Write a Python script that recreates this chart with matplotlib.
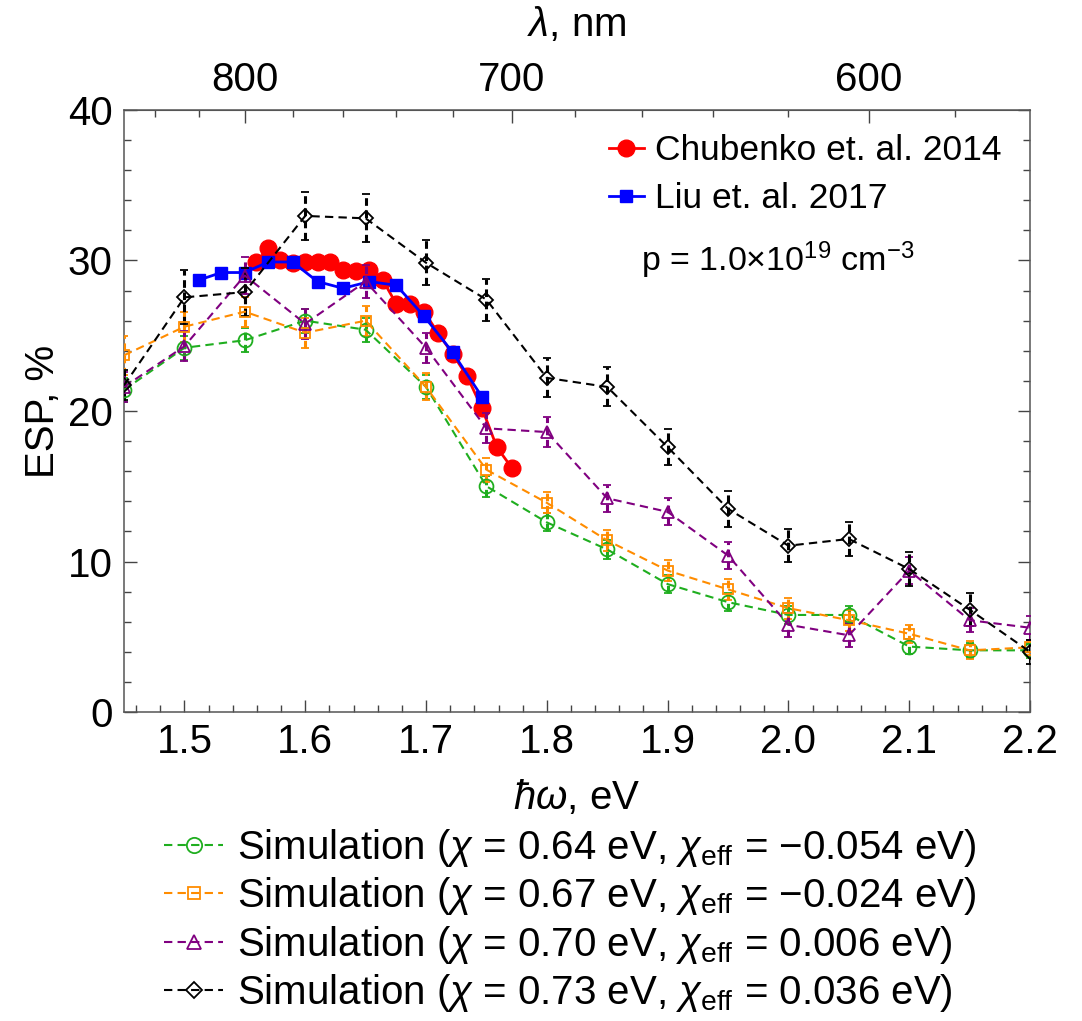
import numpy as np
import matplotlib.pyplot as plt
from matplotlib.lines import Line2D
from matplotlib.ticker import MultipleLocator, FixedLocator

plt.rcParams['font.family'] = ['Liberation Sans', 'DejaVu Sans']
plt.rcParams['mathtext.fontset'] = 'custom'
plt.rcParams['mathtext.rm'] = 'Liberation Sans'
plt.rcParams['mathtext.it'] = 'Liberation Sans:italic'
plt.rcParams['mathtext.bf'] = 'Liberation Sans:bold'

HC = 1239.84  # eV*nm

# simulated ESP on a regular photon-energy grid
energy = [1.45, 1.50, 1.55, 1.60, 1.65, 1.70, 1.75, 1.80,
          1.85, 1.90, 1.95, 2.00, 2.05, 2.10, 2.15, 2.20]
sim_064 = [21.4, 24.2, 24.7, 26.0, 25.4, 21.6, 15.0, 12.6,
           10.8, 8.5, 7.3, 6.45, 6.45, 4.35, 4.1, 4.1]
sim_067 = [23.7, 25.6, 26.6, 25.2, 26.0, 21.6, 16.1, 13.9,
           11.4, 9.4, 8.15, 6.9, 6.1, 5.2, 4.1, 4.3]
sim_070 = [21.6, 24.3, 29.0, 25.8, 28.6, 24.2, 18.85, 18.6,
           14.2, 13.3, 10.4, 5.8, 5.1, 9.4, 6.1, 5.6]
sim_073 = [21.7, 27.55, 27.9, 32.96, 32.8, 29.85, 27.4, 22.2,
           21.6, 17.6, 13.5, 11.05, 11.5, 9.5, 6.8, 4.0]
err_064 = [0.8, 0.8, 0.8, 0.8, 0.8, 0.8, 0.7, 0.6, 0.6, 0.6, 0.6, 0.6, 0.6, 0.5, 0.5, 0.5]
err_067 = [1.3, 1.0, 1.0, 1.0, 1.0, 0.9, 0.8, 0.7, 0.7, 0.7, 0.7, 0.7, 0.7, 0.6, 0.6, 0.5]
err_070 = [1.0, 1.0, 1.2, 1.0, 1.1, 1.0, 1.0, 1.0, 0.9, 0.9, 0.9, 0.8, 0.8, 0.9, 0.8, 0.8]
err_073 = [1.0, 1.8, 1.6, 1.6, 1.6, 1.5, 1.4, 1.3, 1.3, 1.2, 1.2, 1.1, 1.1, 1.1, 1.1, 0.8]

# experiments, measured in wavelength
chub_wl = [795, 790, 785, 780, 775, 770, 765, 760, 755, 750,
           745, 740, 735, 730, 725, 720, 715, 710, 705, 700]
chub_esp = [29.9, 30.8, 30.0, 29.8, 29.9, 29.9, 29.9, 29.4, 29.3, 29.4,
            28.7, 27.1, 27.1, 26.6, 25.15, 23.8, 22.3, 20.2, 17.6, 16.2]
liu_wl = [820, 810, 800, 790, 780, 770, 760, 750, 740, 730, 720, 710]
liu_esp = [28.7, 29.2, 29.2, 29.9, 29.9, 28.6, 28.15, 28.6, 28.35, 26.3, 23.9, 20.95]

sim_labels = [
    r'Simulation ($\chi$ = 0.64 eV, $\chi_{\rm eff}$ = −0.054 eV)',
    r'Simulation ($\chi$ = 0.67 eV, $\chi_{\rm eff}$ = −0.024 eV)',
    r'Simulation ($\chi$ = 0.70 eV, $\chi_{\rm eff}$ = 0.006 eV)',
    r'Simulation ($\chi$ = 0.73 eV, $\chi_{\rm eff}$ = 0.036 eV)',
]
sim_data = [sim_064, sim_067, sim_070, sim_073]
sim_err = [err_064, err_067, err_070, err_073]
sim_colors = ['#1fae1f', '#ff8c00', '#800080', '#000000']
sim_markers = ['o', 's', '^', 'D']
sim_msize = [10, 7.5, 9, 7]

FS = 29

fig = plt.figure(figsize=(10.82, 10.21), dpi=100)
ax = fig.add_axes([0.1146, 0.3026, 0.8374, 0.5897])

dash = (0, (4, 2.5))
handles = []
for y, e, c, m, ms, lab in zip(sim_data, sim_err, sim_colors, sim_markers, sim_msize, sim_labels):
    line, caps, bars = ax.errorbar(energy, y, yerr=e, color=c, ls=dash, lw=1.5,
                                   marker=m, ms=ms, mfc='none', mec=c, mew=1.3,
                                   ecolor=c, elinewidth=2.2, capsize=3, capthick=2.5, zorder=3)
    bars[0].set_linestyle((0, (2.5, 1.5)))
    handles.append(Line2D([], [], color=c, ls=dash, lw=1.5, marker=m, ms=ms + 1,
                          mfc='none', mec=c, mew=1.3, label=lab))

chub_e = [HC / w for w in chub_wl]
liu_e = [HC / w for w in liu_wl]
h_chub, = ax.plot(chub_e, chub_esp, color='red', lw=2, marker='o', ms=12,
                  label='Chubenko et. al. 2014', zorder=2)
h_liu, = ax.plot(liu_e, liu_esp, color='blue', lw=2, marker='s', ms=8.5,
                 label='Liu et. al. 2017', zorder=2)

ax.set_xlim(1.45, 2.2)
ax.set_ylim(0, 40)
ax.xaxis.set_major_locator(MultipleLocator(0.1))
ax.xaxis.set_minor_locator(MultipleLocator(0.02))
ax.yaxis.set_major_locator(MultipleLocator(10))
ax.yaxis.set_minor_locator(MultipleLocator(2))
ax.xaxis.set_major_formatter(lambda v, p: f'{v:.1f}')
ax.tick_params(which='both', direction='in', top=False, right=True,
               labelsize=FS, color='#444444', pad=8)
ax.tick_params(which='major', length=9, width=1)
ax.tick_params(which='minor', length=5, width=1)
for s in ax.spines.values():
    s.set_color('#555555')
    s.set_linewidth(1.1)

ax.set_xlabel(r'$ħω$, eV', fontsize=FS, labelpad=12)
ax.set_ylabel('ESP, %', fontsize=FS, labelpad=4)

top = ax.secondary_xaxis('top', functions=(lambda e: HC / np.asarray(e, float),
                                           lambda w: HC / np.asarray(w, float)))
top.xaxis.set_major_locator(FixedLocator([600, 700, 800]))
top.xaxis.set_minor_locator(FixedLocator([560, 580, 620, 640, 660, 680, 720, 740,
                                          760, 780, 820, 840, 860]))
top.tick_params(which='both', direction='in', labelsize=FS, color='#444444', pad=8)
top.tick_params(which='major', length=9, width=1)
top.tick_params(which='minor', length=5, width=1)
top.spines['top'].set_color('#555555')
top.set_xlabel(r'$λ$, nm', fontsize=FS, labelpad=18)

ax.legend(handles=[h_chub, h_liu], loc='upper left', bbox_to_anchor=(0.535, 0.96),
          frameon=False, fontsize=25.5, handlelength=1.0, handletextpad=0.3,
          labelspacing=0.42, borderpad=0, borderaxespad=0)
ax.text(0.571, 0.75, r'p = 1.0$\times$10$^{19}$ cm$^{−3}$', transform=ax.transAxes,
        fontsize=24.5, va='center', ha='left')

fig.legend(handles=handles, loc='upper left', bbox_to_anchor=(0.152, 0.19),
           frameon=False, fontsize=FS, handlelength=1.45, handletextpad=0.35,
           labelspacing=0.16, borderpad=0, borderaxespad=0)

fig.savefig('out.png', dpi=100)
